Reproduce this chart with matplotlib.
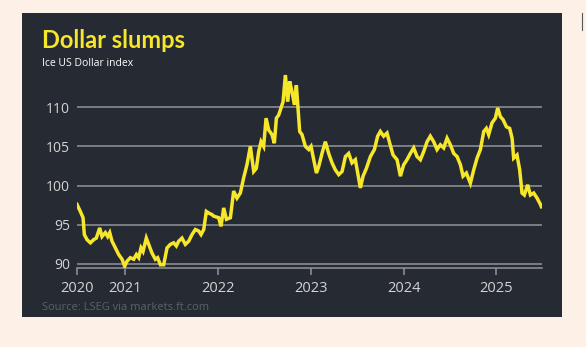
import matplotlib
matplotlib.use("Agg")
import matplotlib.pyplot as plt
from matplotlib.patches import Rectangle
from matplotlib.lines import Line2D

# ICE US dollar index, decimal years vs index level
years = [
    2020.485, 2020.521, 2020.550, 2020.564, 2020.593, 2020.629, 2020.664, 2020.693,
    2020.729, 2020.754, 2020.790, 2020.815, 2020.837, 2020.862, 2020.898, 2020.934,
    2020.970, 2020.998, 2021.023, 2021.059, 2021.095, 2021.124, 2021.149, 2021.174,
    2021.196, 2021.231, 2021.257, 2021.292, 2021.328, 2021.353, 2021.382, 2021.418,
    2021.454, 2021.490, 2021.526, 2021.554, 2021.579, 2021.615, 2021.651, 2021.687,
    2021.723, 2021.759, 2021.795, 2021.820, 2021.849, 2021.877, 2021.902, 2021.938,
    2021.956, 2022.010, 2022.035, 2022.064, 2022.093, 2022.136, 2022.171, 2022.207,
    2022.243, 2022.279, 2022.315, 2022.351, 2022.387, 2022.415, 2022.441, 2022.466,
    2022.494, 2022.520, 2022.548, 2022.584, 2022.609, 2022.631, 2022.656, 2022.681,
    2022.703, 2022.728, 2022.753, 2022.774, 2022.799, 2022.825, 2022.846, 2022.864,
    2022.882, 2022.907, 2022.943, 2022.979, 2023.004, 2023.033, 2023.062, 2023.086,
    2023.122, 2023.158, 2023.194, 2023.230, 2023.266, 2023.302, 2023.338, 2023.374,
    2023.409, 2023.445, 2023.481, 2023.506, 2023.535, 2023.564, 2023.600, 2023.643,
    2023.686, 2023.721, 2023.750, 2023.786, 2023.822, 2023.851, 2023.887, 2023.930,
    2023.966, 2024.001, 2024.037, 2024.073, 2024.109, 2024.145, 2024.181, 2024.217,
    2024.253, 2024.288, 2024.324, 2024.360, 2024.396, 2024.432, 2024.468, 2024.504,
    2024.540, 2024.576, 2024.612, 2024.640, 2024.676, 2024.719, 2024.755, 2024.791,
    2024.827, 2024.863, 2024.891, 2024.916, 2024.952, 2024.988, 2025.013, 2025.042,
    2025.071, 2025.107, 2025.142, 2025.168, 2025.185, 2025.221, 2025.250, 2025.275,
    2025.300, 2025.336, 2025.365, 2025.401, 2025.437, 2025.473, 2025.483,
]
index = [
    97.6, 96.7, 95.9, 93.75, 93.1, 92.7, 93.1, 93.3,
    94.6, 93.5, 94.0, 93.5, 94.0, 92.9, 92.05, 91.2,
    90.6, 89.7, 90.35, 90.8, 90.6, 91.2, 90.8, 92.05,
    91.6, 93.3, 92.5, 91.4, 90.6, 90.8, 89.9, 89.9,
    92.05, 92.5, 92.7, 92.3, 92.9, 93.3, 92.5, 92.9,
    93.75, 94.4, 94.2, 93.75, 94.4, 96.7, 96.5, 96.3,
    96.1, 95.9, 94.8, 97.15, 95.7, 95.9, 99.3, 98.4,
    99.05, 101.0, 102.7, 105.0, 101.8, 102.2, 104.35, 105.6,
    105.0, 108.6, 107.1, 106.5, 105.4, 108.6, 109.0, 109.9,
    110.7, 114.1, 110.7, 113.3, 112.0, 110.3, 112.8, 109.9,
    106.9, 106.5, 105.0, 104.6, 105.0, 103.3, 101.6, 102.4,
    104.1, 105.6, 104.1, 102.9, 102.0, 101.4, 101.8, 103.7,
    104.1, 102.9, 103.3, 101.6, 99.7, 101.2, 102.2, 103.7,
    104.6, 106.3, 106.9, 106.3, 106.7, 105.4, 103.9, 103.3,
    101.2, 102.65, 103.3, 104.1, 104.8, 103.7, 103.3, 104.35,
    105.6, 106.3, 105.6, 104.6, 105.2, 104.8, 106.05, 105.2,
    104.1, 103.7, 102.65, 101.2, 101.6, 100.3, 102.0, 103.5,
    104.6, 106.9, 107.3, 106.5, 108.0, 108.6, 109.9, 108.8,
    108.4, 107.5, 107.3, 106.05, 103.5, 103.9, 102.0, 99.05,
    98.8, 100.1, 98.8, 99.05, 98.4, 97.6, 97.3,
]

tick_pos = [2020.485, 2021, 2022, 2023, 2024, 2025]
tick_labels = ["2020", "2021", "2022", "2023", "2024", "2025"]
y_ticks = [90, 95, 100, 105, 110]

bg = "#fdf0e6"
panel = "#262a33"
yellow = "#f7e72a"
grid = "#93959b"

plt.rcParams["font.family"] = ["Open Sans", "DejaVu Sans"]

W, H = 586, 347
fig = plt.figure(figsize=(W / 100, H / 100), dpi=100, facecolor=bg)

# dark card behind the chart
fig.patches.append(Rectangle((22 / W, 1 - 317 / H), 540 / W, 304 / H,
                             transform=fig.transFigure, facecolor=panel,
                             edgecolor="none", zorder=-1))
fig.lines.append(Line2D([582 / W, 582 / W], [1 - 13 / H, 1 - 30 / H],
                        transform=fig.transFigure, color="#555555", lw=0.8))

ax = fig.add_axes([77 / W, 1 - 267.5 / H, 465 / W, 199.5 / H])
ax.set_zorder(2)
ax.set_facecolor("none")
ax.set_xlim(2020.485, 2025.49)
ax.set_ylim(89.55, 115)

for v in y_ticks:
    ax.axhline(v, color=grid, lw=1.1, zorder=1)
ax.axhline(89.55, color=grid, lw=1.1, zorder=1, clip_on=False)

ax.plot(years, index, color=yellow, lw=2.5, solid_joinstyle="miter", zorder=3)

for s in ax.spines.values():
    s.set_visible(False)

ax.set_yticks(y_ticks)
ax.set_yticklabels([str(v) for v in y_ticks])
ax.tick_params(axis="y", length=0, pad=5, labelsize=10, labelcolor="#d4d4d4")
ax.set_xticks(tick_pos)
ax.set_xticklabels(tick_labels)
ax.tick_params(axis="x", length=5, width=1.1, color=grid, pad=4.5,
               labelsize=10.5, labelcolor="#d4d4d4")

fig.text(42 / W, 1 - 29 / H, "Dollar slumps", color=yellow, fontsize=17,
         fontweight="bold", family=["Lato", "DejaVu Sans"], va="top", ha="left",
         zorder=3)
fig.text(42 / W, 1 - 58.5 / H, "Ice US Dollar index", color="white",
         fontsize=7.5, va="top", ha="left", zorder=3)
fig.text(42 / W, 1 - 301.5 / H, "Source: LSEG via markets.ft.com", color="#5c6069",
         fontsize=8, va="top", ha="left", zorder=3)

fig.savefig("out.png", dpi=100, facecolor=bg)
